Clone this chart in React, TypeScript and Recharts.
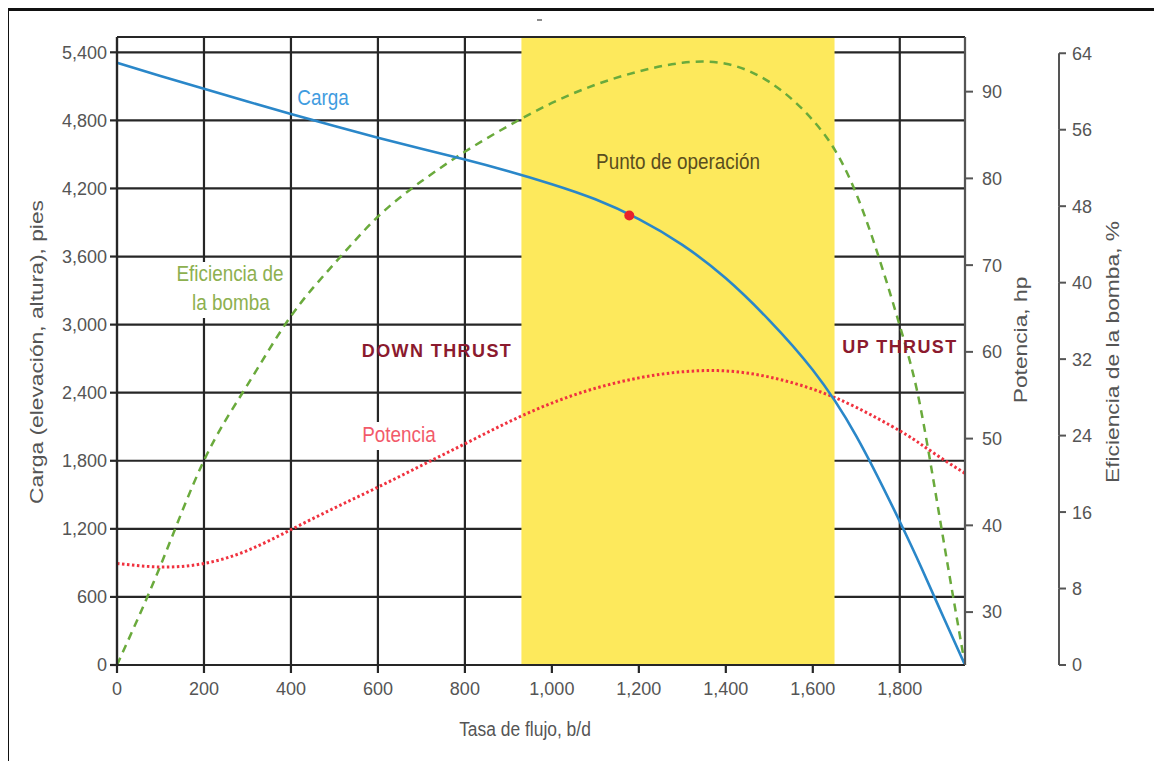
import React from 'react'
import {
  ComposedChart,
  Line,
  XAxis,
  YAxis,
  CartesianGrid,
  ReferenceArea,
  ReferenceLine,
  ReferenceDot,
} from 'recharts'

// Curvas de la bomba
const flujo = [0, 100, 200, 300, 400, 500, 600, 700, 800, 900, 1000, 1100, 1200, 1300, 1400, 1500, 1600, 1700, 1800, 1850, 1900, 1950]
const carga = [5307, 5192, 5078, 4966, 4856, 4750, 4648, 4550, 4455, 4352, 4238, 4105, 3930, 3703, 3408, 3038, 2600, 2018, 1265, 855, 425, 0]
const eficiencia = [0, 10.4, 21.4, 29.3, 36.5, 42.0, 46.9, 50.6, 53.7, 56.4, 58.8, 60.7, 62.1, 63.0, 62.9, 61.0, 57.0, 49.3, 35.5, 26.4, 13.2, 0]
const potencia = [35.6, 35.2, 35.6, 37.1, 39.5, 42.0, 44.4, 46.9, 49.4, 51.9, 54.1, 55.8, 57.0, 57.7, 57.8, 57.1, 55.7, 53.6, 50.9, 49.3, 47.6, 46.0]

const flujoTicks = [0, 200, 400, 600, 800, 1000, 1200, 1400, 1600, 1800]
const cargaTicks = [0, 600, 1200, 1800, 2400, 3000, 3600, 4200, 4800, 5400]
const potenciaTicks = [30, 40, 50, 60, 70, 80, 90]
const eficienciaTicks = [0, 8, 16, 24, 32, 40, 48, 56, 64]

const zonaOperacion = [930, 1650]
const puntoOperacion = { flujo: 1178, carga: 3962 }

const FLUJO_MAX = 1950
const CARGA_MAX = 5535
const POT_DOMAIN = [23.9, 96.3]
const EFF_MAX = 65.7

const data = flujo.map((f, i) => ({
  flujo: f,
  carga: carga[i],
  eficiencia: eficiencia[i],
  potencia: potencia[i],
}))

const W = 1162
const H = 769
const MARGIN = { top: 37, right: 43, bottom: 64, left: 47 }
const X_AXIS_H = 40
const PLOT_H = H - MARGIN.top - MARGIN.bottom - X_AXIS_H

const sans = 'Liberation Sans, Arial, sans-serif'
const tickFont = { fill: '#555', fontSize: 18, fontFamily: sans }

const fmt = (v: number) => v.toLocaleString('en-US')

// eje de eficiencia: la linea solo va de 0 a 64
function EficienciaTick(props: any) {
  const { x, y, payload } = props
  const ax = x - 7 - 6
  const step = (PLOT_H * 8) / EFF_MAX
  return (
    <g>
      {payload.value > 0 && <line x1={ax} x2={ax} y1={y} y2={y + step} stroke="#555" strokeWidth={2} />}
      <text x={x} y={y} dy="0.36em" textAnchor="start" {...tickFont}>
        {payload.value}
      </text>
    </g>
  )
}

// texto algo condensado, como en la figura original
function Nota({ x, y, fill, size = 22, sx = 0.86, children }: any) {
  return (
    <text
      transform={`translate(${x},${y}) scale(${sx},1)`}
      textAnchor="middle"
      dominantBaseline="middle"
      fill={fill}
      fontSize={size}
      fontFamily={sans}
    >
      {children}
    </text>
  )
}

function TituloVertical({ x, y, children }: any) {
  return (
    <text
      transform={`translate(${x},${y}) rotate(-90) scale(1.2,1)`}
      textAnchor="middle"
      dominantBaseline="middle"
      fill="#555"
      fontSize={19}
      fontFamily={sans}
    >
      {children}
    </text>
  )
}

export default function App() {
  return (
    <div style={{ position: 'relative', width: W, height: H, margin: -8, background: '#fff', overflow: 'hidden' }}>
      <div
        style={{
          position: 'absolute',
          left: 6,
          top: 8,
          width: W,
          height: H,
          borderLeft: '3px solid #111',
          borderTop: '3px solid #111',
        }}
      />
      <div style={{ position: 'absolute', left: 0, top: 0 }}>
        <ComposedChart width={W} height={H} data={data} margin={MARGIN}>
          <ReferenceArea
            yAxisId="pies"
            x1={zonaOperacion[0]}
            x2={zonaOperacion[1]}
            fill="#fde95c"
            fillOpacity={1}
            stroke="none"
          />
          <CartesianGrid yAxisId="pies" stroke="#262626" strokeWidth={2.2} />
          <ReferenceLine yAxisId="pies" y={CARGA_MAX} stroke="#262626" strokeWidth={2.2} />
          <XAxis
            dataKey="flujo"
            type="number"
            domain={[0, FLUJO_MAX]}
            ticks={flujoTicks}
            tickFormatter={fmt}
            height={X_AXIS_H}
            tickSize={8}
            tickMargin={9}
            tick={tickFont}
            stroke="#262626"
            strokeWidth={2.2}
          />
          <YAxis
            yAxisId="pies"
            orientation="left"
            width={70}
            domain={[0, CARGA_MAX]}
            ticks={cargaTicks}
            tickFormatter={fmt}
            tickSize={7}
            tickMargin={3}
            tick={tickFont}
            stroke="#262626"
            strokeWidth={2.2}
          />
          <YAxis
            yAxisId="hp"
            orientation="right"
            width={94}
            domain={POT_DOMAIN}
            ticks={potenciaTicks}
            tickSize={8}
            tickMargin={9}
            tick={tickFont}
            stroke="#555"
            strokeWidth={2}
          />
          <YAxis
            yAxisId="pct"
            orientation="right"
            width={60}
            domain={[0, EFF_MAX]}
            ticks={eficienciaTicks}
            tickSize={7}
            tickMargin={6}
            axisLine={false}
            tick={<EficienciaTick />}
            stroke="#555"
            strokeWidth={2}
          />
          <Line
            yAxisId="pct"
            dataKey="eficiencia"
            type="natural"
            stroke="#6aaa3c"
            strokeWidth={2.5}
            strokeDasharray="8 6"
            dot={false}
            isAnimationActive={false}
          />
          <Line
            yAxisId="hp"
            dataKey="potencia"
            type="natural"
            stroke="#f0323f"
            strokeWidth={3}
            strokeDasharray="2.5 2.5"
            dot={false}
            isAnimationActive={false}
          />
          <Line
            yAxisId="pies"
            dataKey="carga"
            type="natural"
            stroke="#2a87c9"
            strokeWidth={2.6}
            dot={false}
            isAnimationActive={false}
          />
          <ReferenceDot
            yAxisId="pies"
            x={puntoOperacion.flujo}
            y={puntoOperacion.carga}
            r={5}
            fill="#e8222b"
            stroke="none"
          />
        </ComposedChart>
      </div>
      <svg width={W} height={H} style={{ position: 'absolute', left: 0, top: 0, pointerEvents: 'none' }}>
        <line x1={537} x2={542} y1={20} y2={20} stroke="#666" strokeWidth={1.5} />
        <TituloVertical x={38} y={352}>Carga (elevación, altura), pies</TituloVertical>
        <TituloVertical x={1022} y={340}>Potencia, hp</TituloVertical>
        <TituloVertical x={1114} y={352}>Eficiencia de la bomba, %</TituloVertical>
        <Nota x={525} y={730} fill="#555" size={21} sx={0.83}>Tasa de flujo, b/d</Nota>

        <Nota x={323} y={99} fill="#3f9ce0">Carga</Nota>
        <rect x={172} y={262} width={116} height={56} fill="#fff" />
        <Nota x={230} y={275} fill="#8db04f">Eficiencia de</Nota>
        <Nota x={231} y={304} fill="#8db04f">la bomba</Nota>
        <rect x={358} y={422} width={80} height={28} fill="#fff" />
        <Nota x={399} y={436} fill="#f25a6a">Potencia</Nota>
        <rect x={592} y={148} width={172} height={30} fill="#fde95c" />
        <Nota x={678} y={163} fill="#5a4e1e">Punto de operación</Nota>
        <text x={437} y={352} textAnchor="middle" dominantBaseline="middle" fill="#8b1a2e" fontSize={18} fontWeight="bold" letterSpacing={1.4} fontFamily={sans}>
          DOWN THRUST
        </text>
        <text x={900} y={348} textAnchor="middle" dominantBaseline="middle" fill="#8b1a2e" fontSize={18} fontWeight="bold" letterSpacing={1.4} fontFamily={sans}>
          UP THRUST
        </text>
      </svg>
    </div>
  )
}
